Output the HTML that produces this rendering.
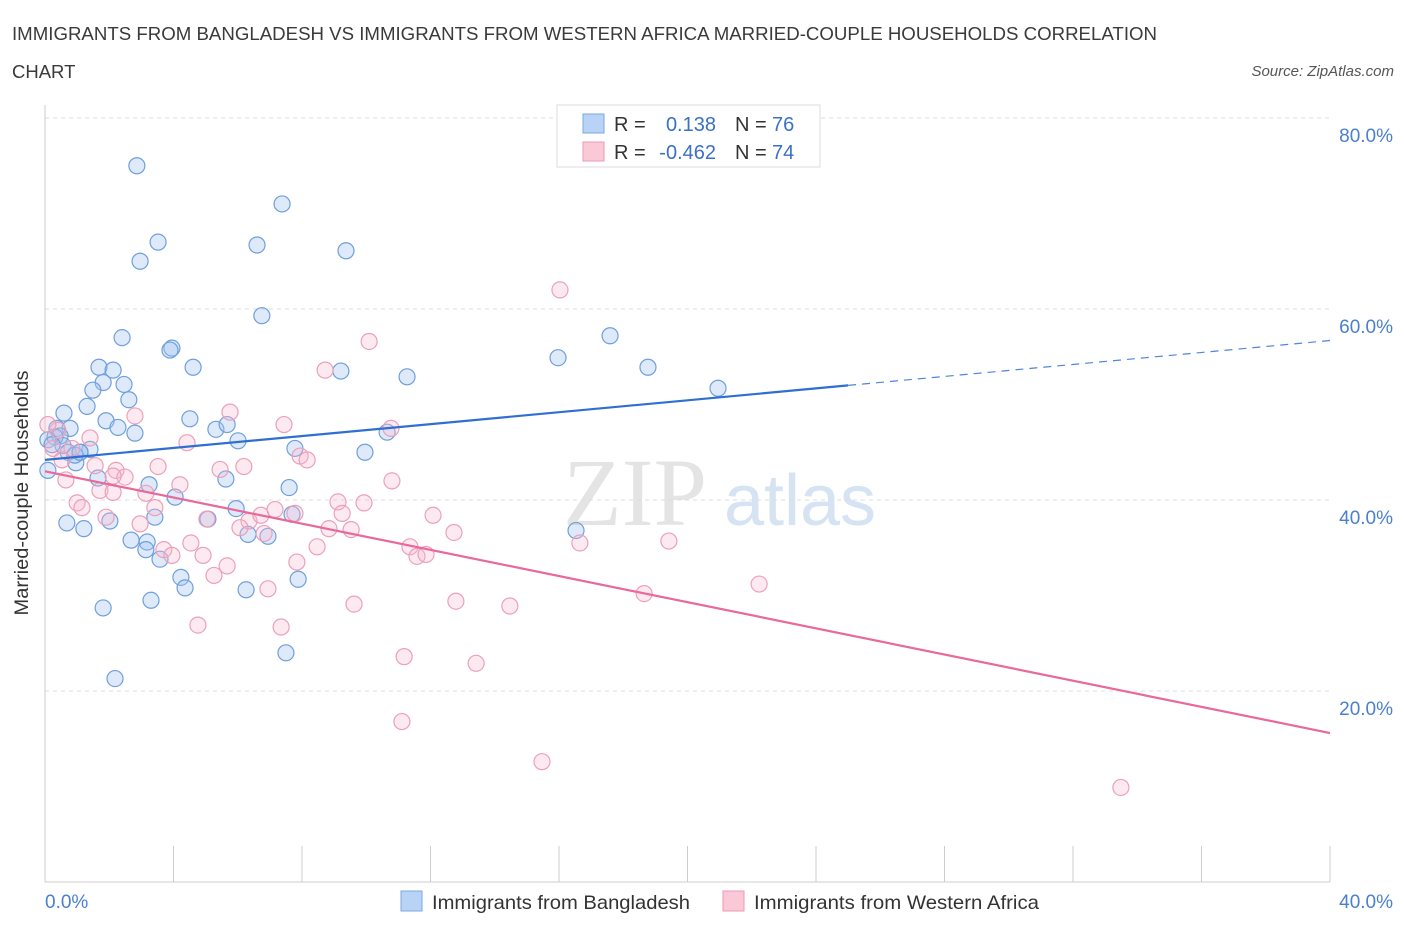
<!DOCTYPE html>
<html><head><meta charset="utf-8"><style>
body{margin:0;background:#fff;font-family:"Liberation Sans",sans-serif;}
</style></head><body>
<svg id="chart" width="1406" height="930" xmlns="http://www.w3.org/2000/svg" font-family="Liberation Sans, sans-serif">
<text x="12" y="40" font-size="18.5" fill="#3a3a3a" textLength="1145" lengthAdjust="spacingAndGlyphs">IMMIGRANTS FROM BANGLADESH VS IMMIGRANTS FROM WESTERN AFRICA MARRIED-COUPLE HOUSEHOLDS CORRELATION</text>
<text x="12" y="78" font-size="18.5" fill="#3a3a3a">CHART</text>
<text x="1394" y="76" font-size="15" font-style="italic" fill="#555" text-anchor="end">Source: ZipAtlas.com</text>
<text x="635" y="525" font-size="96" font-family="Liberation Serif, serif" fill="#e4e4e4" text-anchor="middle">ZIP</text>
<text x="800" y="525" font-size="72" fill="#d5e3f3" text-anchor="middle">atlas</text>
<g id="grid"></g><g id="axes"></g><g id="pts"></g><g id="trends"></g>
<text x="28" y="493" font-size="19.5" fill="#333" text-anchor="middle" textLength="245" lengthAdjust="spacingAndGlyphs" transform="rotate(-90 28 493)">Married-couple Households</text>
<g>
<rect x="557" y="105" width="263" height="62" fill="#fff" stroke="#ddd"/>
<rect x="583" y="114" width="21" height="19" fill="#b8d3f5" stroke="#7aa8e0"/>
<rect x="583" y="142" width="21" height="19" fill="#fac8d6" stroke="#eb9ab4"/>
<text x="614" y="131" font-size="20" fill="#333">R =</text>
<text x="716" y="131" font-size="20" fill="#3a70c8" text-anchor="end">0.138</text>
<text x="735" y="131" font-size="20" fill="#333">N =</text>
<text x="772" y="131" font-size="20" fill="#3a70c8">76</text>
<text x="614" y="159" font-size="20" fill="#333">R =</text>
<text x="716" y="159" font-size="20" fill="#3a70c8" text-anchor="end">-0.462</text>
<text x="735" y="159" font-size="20" fill="#333">N =</text>
<text x="772" y="159" font-size="20" fill="#3a70c8">74</text>
</g>
<g>
<rect x="401" y="891" width="21" height="20" fill="#b8d3f5" stroke="#7aa8e0"/>
<text x="432" y="909" font-size="19.5" fill="#333" textLength="258" lengthAdjust="spacingAndGlyphs">Immigrants from Bangladesh</text>
<rect x="723" y="891" width="21" height="20" fill="#fac8d6" stroke="#eb9ab4"/>
<text x="754" y="909" font-size="19.5" fill="#333" textLength="285" lengthAdjust="spacingAndGlyphs">Immigrants from Western Africa</text>
</g>
</svg>
<script>
const blueX=[2.86,3.52,2.96,6.60,7.38,9.37,6.75,2.40,3.95,3.89,4.61,1.68,2.12,9.21,11.27,1.81,2.46,1.49,2.61,1.31,0.59,4.51,1.90,2.27,2.80,5.32,5.67,0.37,0.78,0.47,0.31,6.01,0.56,1.40,0.72,1.09,7.78,9.96,0.09,0.96,1.65,5.63,3.24,7.60,4.05,5.95,5.07,3.42,7.69,0.68,1.21,2.02,2.68,3.18,3.14,3.58,6.32,6.94,4.23,4.36,7.88,6.26,3.30,1.81,7.50,2.18,15.97,17.59,18.77,20.95,16.53,10.65,0.09,0.93,0.22,1.09];
const blueY=[75.0,67.0,65.0,66.7,71.0,66.1,59.3,57.0,55.9,55.7,53.9,53.9,53.6,53.5,52.9,52.3,52.1,51.5,50.5,49.8,49.1,48.5,48.3,47.6,47.0,47.4,47.9,47.5,47.5,46.7,46.6,46.2,45.7,45.3,45.0,45.0,45.4,45.0,43.1,43.9,42.3,42.2,41.6,41.3,40.3,39.1,38.0,38.2,38.5,37.6,37.0,37.8,35.8,35.6,34.8,33.8,36.4,36.2,31.9,30.8,31.7,30.6,29.5,28.7,24.0,21.3,54.9,57.2,53.9,51.7,36.8,47.1,46.3,44.7,45.8,45.0];
const pinkX=[16.03,10.09,8.72,2.80,5.76,7.44,10.77,4.42,0.40,0.09,0.25,0.84,7.94,8.16,1.56,3.52,5.45,6.19,2.21,2.49,0.65,10.80,4.20,1.71,2.12,3.14,9.12,1.00,9.93,1.15,3.42,5.04,6.35,6.72,7.16,7.78,9.25,12.08,2.96,1.90,6.07,8.84,9.53,12.73,6.82,16.65,19.42,8.47,11.36,4.54,3.70,3.95,4.92,11.58,11.86,7.84,5.67,5.26,22.23,18.65,6.94,9.62,12.79,14.47,4.76,7.35,11.18,13.42,11.11,15.47,33.49,2.12,0.53,1.40];
const pinkY=[62.0,56.6,53.6,48.8,49.2,47.9,47.5,46.0,47.3,47.9,45.4,45.4,44.6,44.2,43.6,43.5,43.2,43.5,43.1,42.4,42.1,42.0,41.6,41.0,40.8,40.7,39.8,39.7,39.7,39.2,39.2,38.0,37.8,38.4,39.0,38.6,38.6,38.4,37.5,38.2,37.1,37.0,36.9,36.6,36.5,35.5,35.7,35.1,35.1,35.5,34.8,34.2,34.2,34.1,34.3,33.5,33.1,32.1,31.2,30.2,30.7,29.1,29.4,28.9,26.9,26.7,23.6,22.9,16.8,12.6,9.9,42.5,44.2,46.5];
const blueTrendX=[0,25,40];
const blueTrendY=[44.2,52.0,56.7];
const pinkTrendX=[0,40];
const pinkTrendY=[43.0,15.6];
const yTicks=[20,40,60,80];
const yTickLabels=["20.0%","40.0%","60.0%","80.0%"];
const xTicks=[0,4,8,12,16,20,24,28,32,36,40];

const X0=45,X1=1330,Y0=882,Y80=118;
const sx=v=>X0+(v/40)*(X1-X0);
const sy=v=>Y0-(v/80)*(Y0-Y80);
const NS="http://www.w3.org/2000/svg";
function mk(tag,attrs,parent){const e=document.createElementNS(NS,tag);for(const k in attrs)e.setAttribute(k,attrs[k]);document.getElementById(parent).appendChild(e);return e;}

yTicks.forEach((t,i)=>{
 const g=mk('line',{x1:X0,x2:X1,y1:sy(t),y2:sy(t),stroke:'#ddd','stroke-dasharray':'4,4'},'grid');
 
 
 const l=mk('text',{x:1393,y:sy(t)+24,'font-size':19,fill:'#4a7fd0','text-anchor':'end'},'axes');
 l.textContent=yTickLabels[i];
 
 
});
const ax=mk('line',{x1:X0,x2:X0,y1:105,y2:Y0,stroke:'#ccc'},'axes');


const bx=mk('line',{x1:X0,x2:X1,y1:Y0,y2:Y0,stroke:'#ccc'},'axes');


xTicks.forEach(t=>{
 const tk=mk('line',{x1:sx(t),x2:sx(t),y1:Y0-36,y2:Y0,stroke:'#ccc'},'axes');
 
 
});
const xl=mk('text',{x:45,y:908,'font-size':19,fill:'#4a7fd0'},'axes');xl.textContent='0.0%';


const xr=mk('text',{x:1393,y:908,'font-size':19,fill:'#4a7fd0','text-anchor':'end'},'axes');xr.textContent='40.0%';



blueX.forEach((v,i)=>{
 const c=mk('circle',{cx:sx(v),cy:sy(blueY[i]),r:8,fill:'rgba(160,196,240,0.35)',stroke:'#6f9fdc','stroke-width':1.2},'pts');
 
 
});
pinkX.forEach((v,i)=>{
 const c=mk('circle',{cx:sx(v),cy:sy(pinkY[i]),r:8,fill:'rgba(248,184,204,0.3)',stroke:'#eba0ba','stroke-width':1.2},'pts');
 
 
});
const b1=mk('line',{x1:sx(blueTrendX[0]),y1:sy(blueTrendY[0]),x2:sx(blueTrendX[1]),y2:sy(blueTrendY[1]),stroke:'#2f6fd0','stroke-width':2.2},'trends');


const b2=mk('line',{x1:sx(blueTrendX[1]),y1:sy(blueTrendY[1]),x2:sx(blueTrendX[2]),y2:sy(blueTrendY[2]),stroke:'#4f86d8','stroke-width':1.2,'stroke-dasharray':'8,6'},'trends');


const p1=mk('line',{x1:sx(pinkTrendX[0]),y1:sy(pinkTrendY[0]),x2:sx(pinkTrendX[1]),y2:sy(pinkTrendY[1]),stroke:'#e8699a','stroke-width':2.2},'trends');


</script>
</body></html>
